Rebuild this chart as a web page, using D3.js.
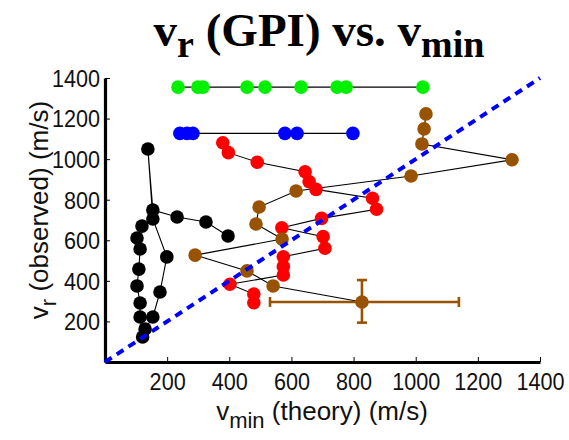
<!DOCTYPE html>
<html>
<head>
<meta charset="utf-8">
<script src="https://cdn.jsdelivr.net/npm/d3@7"></script>
<style>
  html, body { margin: 0; padding: 0; background: #fff; }
  svg { display: block; }
</style>
</head>
<body>
<svg id="chart" width="569" height="440"></svg>
<script>
// Observed radial speed vs. theoretical minimum speed, per event sequence
const xTicks = [200, 400, 600, 800, 1000, 1200, 1400];
const yTicks = [200, 400, 600, 800, 1000, 1200, 1400];

const greenX = [235, 299, 315, 457, 515, 631, 747, 776, 1023];
const greenY = [1355, 1355, 1355, 1355, 1355, 1355, 1355, 1355, 1355];

const blueX = [241, 264, 283, 579, 618, 798];
const blueY = [1127, 1127, 1127, 1127, 1127, 1127];

const blackX = [396, 325, 232, 154, 138, 154, 199, 177, 154, 129, 121, 113, 113, 103, 109, 113, 103, 119];
const blackY = [621, 690, 715, 749, 1050, 705, 518, 345, 222, 163, 123, 222, 291, 375, 458, 557, 611, 670];

const redX = [379, 397, 490, 644, 657, 679, 861, 874, 697, 569, 702, 708, 574, 574, 574, 402, 479, 479];
const redY = [1081, 1032, 985, 938, 889, 851, 807, 753, 708, 662, 618, 561, 519, 470, 429, 383, 335, 292];

const brownX = [1033, 1027, 1020, 1310, 985, 615, 496, 486, 570, 290, 457, 541, 827];
const brownY = [1223, 1149, 1075, 997, 917, 843, 764, 680, 606, 527, 449, 375, 296];

// uncertainty on the last brown measurement
const errX = [531, 1139];
const errY = [194, 404];

const series = [
  { name: "black", color: "#000000", xs: blackX, ys: blackY },
  { name: "red",   color: "#ff0000", xs: redX,   ys: redY },
  { name: "brown", color: "#995200", xs: brownX, ys: brownY },
  { name: "blue",  color: "#0000ff", xs: blueX,  ys: blueY },
  { name: "green", color: "#00f000", xs: greenX, ys: greenY }
];

const svg = d3.select("#chart");
const x = d3.scaleLinear().domain([0, 1400]).range([105, 540]);
const y = d3.scaleLinear().domain([0, 1400]).range([362, 78]);

// title
const title = svg.append("text")
  .attr("x", 319).attr("y", 46)
  .attr("text-anchor", "middle")
  .attr("font-family", "'Liberation Serif', 'Times New Roman', serif")
  .attr("font-weight", "bold")
  .attr("font-size", 47)
  .attr("fill", "#000");
title.append("tspan").text("v");
title.append("tspan").attr("font-size", 38).attr("dy", 11).text("r");
title.append("tspan").attr("dy", -11).text(" (GPI) vs. v");
title.append("tspan").attr("font-size", 38).attr("dy", 11).text("min");

// axes
const tickFont = "'Liberation Sans', Arial, sans-serif";
const fmt = d3.format("d");
const xAxis = svg.append("g").attr("transform", `translate(0,${y(0)})`)
  .call(d3.axisBottom(x).tickValues(xTicks).tickFormat(fmt).tickSizeInner(-5).tickSizeOuter(0).tickPadding(11));
const yAxis = svg.append("g").attr("transform", `translate(${x(0)},0)`)
  .call(d3.axisLeft(y).tickValues(yTicks).tickFormat(fmt).tickSizeInner(-5).tickSizeOuter(0).tickPadding(5.5));

[xAxis, yAxis].forEach(g => {
  g.select(".domain").attr("stroke", "#000").attr("stroke-width", 3.2);
  g.selectAll(".tick line").attr("stroke", "#000").attr("stroke-width", 1);
  g.selectAll(".tick text")
    .attr("font-family", tickFont)
    .attr("font-size", 24)
    .attr("fill", "#111")
    .attr("transform", "scale(0.9,1)");
});
yAxis.selectAll(".tick text").attr("dy", "0.35em");

// axis titles
const xt = svg.append("text")
  .attr("x", 322).attr("y", 420)
  .attr("text-anchor", "middle")
  .attr("font-family", tickFont).attr("font-size", 26).attr("fill", "#111");
xt.append("tspan").text("v");
xt.append("tspan").attr("font-size", 22).attr("dy", 8).text("min");
xt.append("tspan").attr("dy", -8).text(" (theory) (m/s)");

const yt = svg.append("text")
  .attr("transform", "translate(48,210) rotate(-90)")
  .attr("text-anchor", "middle")
  .attr("font-family", tickFont).attr("font-size", 26).attr("fill", "#111");
yt.append("tspan").text("v");
yt.append("tspan").attr("font-size", 22).attr("dy", 8).text("r");
yt.append("tspan").attr("dy", -8).text(" (observed) (m/s)");

// connecting lines
const line = d3.line().x(d => x(d[0])).y(d => y(d[1]));
series.forEach(s => {
  const pts = s.xs.map((v, i) => [v, s.ys[i]]);
  svg.append("path")
    .attr("d", line(pts))
    .attr("fill", "none")
    .attr("stroke", "#000")
    .attr("stroke-width", 1.1);
});

// error bars
const last = brownX.length - 1;
const eg = svg.append("g").attr("stroke", "#995200").attr("stroke-width", 2.6).attr("fill", "none");
eg.append("line").attr("x1", x(errX[0])).attr("x2", x(errX[1]))
  .attr("y1", y(brownY[last])).attr("y2", y(brownY[last]));
eg.append("line").attr("x1", x(brownX[last])).attr("x2", x(brownX[last]))
  .attr("y1", y(errY[0])).attr("y2", y(errY[1]));
errX.forEach(v => eg.append("line").attr("x1", x(v)).attr("x2", x(v))
  .attr("y1", y(brownY[last]) - 5).attr("y2", y(brownY[last]) + 5));
errY.forEach(v => eg.append("line").attr("y1", y(v)).attr("y2", y(v))
  .attr("x1", x(brownX[last]) - 5).attr("x2", x(brownX[last]) + 5));

// points
series.forEach(s => {
  svg.append("g").selectAll("circle")
    .data(s.xs.map((v, i) => [v, s.ys[i]]))
    .join("circle")
    .attr("cx", d => x(d[0]))
    .attr("cy", d => y(d[1]))
    .attr("r", 6.8)
    .attr("fill", s.color);
});

// reference line v_r = v_min
svg.append("line")
  .attr("x1", x(0)).attr("y1", y(0))
  .attr("x2", x(1400)).attr("y2", y(1400))
  .attr("stroke", "#0000ff")
  .attr("stroke-width", 4)
  .attr("stroke-dasharray", "8,6");
</script>
</body>
</html>
